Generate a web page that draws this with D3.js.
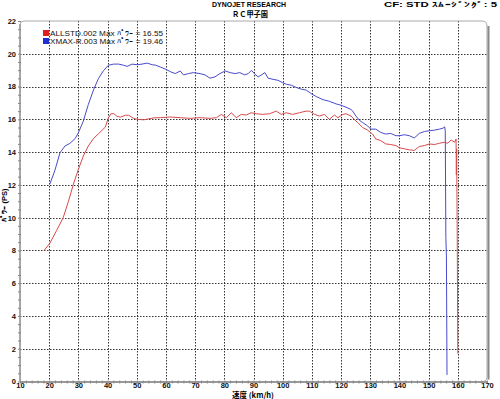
<!DOCTYPE html>
<html><head><meta charset="utf-8">
<script src="https://cdnjs.cloudflare.com/ajax/libs/d3/7.8.5/d3.min.js"></script>
<style>body{margin:0;background:#fff}svg{display:block}</style>
</head><body><div id="c"></div>
<script>
const xTicks=[10,20,30,40,50,60,70,80,90,100,110,120,130,140,150,160,170];
const yTicks=[0,2,4,6,8,10,12,14,16,18,20,22];
const legendNames=["ALLSTD.002 Max ﾊﾟﾜｰ = 16.55","XMAX-R.003 Max ﾊﾟﾜｰ = 19.46"];
const redSpeed=[18.2,20.2,22.5,24.8,26.6,28.3,30.0,31.7,33.4,35.2,36.9,39.2,40.3,41.1,42.1,43.2,44.4,46.1,47.2,49.0,50.7,52.4,54.1,55.9,58.1,61.5,64.9,68.3,71.7,75.1,77.3,79.0,80.7,82.4,84.1,85.8,87.5,89.2,90.9,93.2,95.5,97.8,99.5,101.2,103.4,105.7,108.0,109.2,110.9,112.6,114.3,116.0,117.7,118.9,120.6,121.7,123.4,124.5,125.7,127.4,129.1,130.8,131.9,133.6,135.3,137.0,138.8,140.0,141.7,143.4,145.1,146.8,148.6,150.3,152.0,153.7,155.4,156.6,157.7,158.9,159.4,159.5,159.6,159.8,160.0];
const redPower=[7.98,8.43,9.2,10.0,11.0,12.04,12.95,13.76,14.37,14.83,15.12,15.52,16.09,16.33,16.35,16.19,16.13,16.25,16.25,16.05,15.99,15.97,16.03,16.09,16.1,16.14,16.1,16.06,16.1,16.06,16.1,16.3,16.1,16.4,16.1,16.3,16.26,16.4,16.34,16.3,16.34,16.5,16.3,16.4,16.3,16.4,16.5,16.5,16.3,16.2,16.3,16.0,16.26,16.1,16.3,16.34,16.2,16.0,15.8,15.5,15.34,15.1,14.8,14.7,14.5,14.46,14.4,14.26,14.2,14.14,14.1,14.34,14.4,14.5,14.46,14.54,14.6,14.54,14.74,14.6,14.8,12.6,14.2,9.0,1.7];
const blueSpeed=[20.2,21.9,23.7,25.4,27.1,28.9,30.0,31.7,33.4,35.2,36.9,38.6,40.3,42.1,43.8,45.5,46.7,48.4,50.1,51.8,53.6,55.3,56.4,58.1,60.0,61.5,63.2,64.9,66.0,67.7,69.4,71.7,73.4,75.1,76.8,78.5,80.3,82.0,83.7,85.3,87.0,88.2,89.3,90.5,91.6,92.7,93.9,95.0,96.7,98.4,99.9,101.3,103.0,104.7,106.4,108.1,110.0,111.5,113.8,116.0,118.3,120.0,121.7,123.4,124.0,125.1,126.3,127.4,129.1,130.2,131.9,133.6,135.3,137.0,138.8,140.0,141.7,143.4,145.1,146.8,148.6,150.3,152.0,153.7,154.9,155.5,155.7,155.9,156.1,156.3];
const bluePower=[12.04,12.85,13.96,14.37,14.53,14.83,15.18,15.89,16.9,17.8,18.5,18.97,19.3,19.37,19.37,19.3,19.23,19.37,19.33,19.37,19.43,19.33,19.31,19.19,19.05,18.91,18.79,18.95,18.71,18.79,18.85,18.79,18.71,18.51,18.59,18.79,18.95,18.85,18.79,18.85,18.71,18.79,18.99,18.75,18.59,18.71,18.85,18.51,18.44,18.38,18.24,18.14,18.08,17.94,17.84,17.78,17.54,17.39,17.2,17.1,16.94,16.86,16.74,16.6,16.5,16.2,15.94,15.8,15.6,15.4,15.4,15.2,15.1,15.14,15.0,15.0,15.06,15.0,14.86,15.14,15.26,15.3,15.34,15.4,15.46,15.54,15.3,8.8,7.6,0.4];

const W=500,H=399;
const svg=d3.select("#c").append("svg").attr("width",W).attr("height",H);
const x=d3.scaleLinear().domain([10,170]).range([20,487]);
const y=d3.scaleLinear().domain([0,22]).range([381.5,21]);
const font="'Liberation Sans', Arial, sans-serif";

// grid
const g=svg.append("g");
g.selectAll(".vg").data(xTicks.filter(d=>d>10&&d<170)).enter().append("line")
 .attr("x1",d=>Math.round(x(d))+0.5).attr("x2",d=>Math.round(x(d))+0.5).attr("y1",y(22)).attr("y2",y(0))
 .attr("stroke","#333").attr("stroke-dasharray","1.5,1.5");
g.selectAll(".hg").data(yTicks.filter(d=>d>0&&d<22)).enter().append("line")
 .attr("y1",d=>Math.round(y(d))+0.5).attr("y2",d=>Math.round(y(d))+0.5).attr("x1",x(10)).attr("x2",x(170))
 .attr("stroke","#333").attr("stroke-dasharray","1.5,1.5");

// frame
const L=x(10),R=x(170),T=y(22),B=y(0);
svg.append("path").attr("d",`M${L},${B} L${L},${T+4} Q${L},${T} ${L+4},${T} L${R-5},${T} Q${R},${T} ${R},${T+5} L${R},${B-4} Q${R},${B} ${R-4},${B} Z`)
 .attr("fill","none").attr("stroke","#aaa").attr("stroke-width",1);
svg.append("path").attr("d",`M${R+1.5},${T+5} L${R+1.5},${B-2}`).attr("stroke","#888").attr("stroke-width",2).attr("fill","none");
svg.append("line").attr("x1",L).attr("x2",R).attr("y1",B+0.5).attr("y2",B+0.5).attr("stroke","#999").attr("stroke-width",2);
svg.append("line").attr("x1",L).attr("x2",L).attr("y1",T+3).attr("y2",B).attr("stroke","#999").attr("stroke-width",1.5);

// axes
const xAxisMinor=d3.axisBottom(x).tickValues(d3.range(10,171,2)).tickSize(3).tickFormat("");
svg.append("g").attr("transform",`translate(0,${B-1})`).call(xAxisMinor)
 .call(s=>{s.select(".domain").remove();s.selectAll("line").attr("stroke","#888");});
const xAxis=d3.axisBottom(x).tickValues(xTicks).tickSize(0).tickPadding(0);
svg.append("g").attr("transform",`translate(0,${B+1})`).call(xAxis)
 .call(s=>{s.select(".domain").remove();s.selectAll("text").attr("font-family",font).attr("font-weight","bold").attr("font-size",7.5).attr("fill","#111");});
const yAxisMinor=d3.axisLeft(y).tickValues(d3.range(0,22.01,0.5)).tickSize(3).tickFormat("");
svg.append("g").attr("transform",`translate(${L+1},0)`).call(yAxisMinor)
 .call(s=>{s.select(".domain").remove();s.selectAll("line").attr("stroke","#888");});
const yAxis=d3.axisLeft(y).tickValues(yTicks).tickSize(0).tickPadding(4);
svg.append("g").attr("transform",`translate(${L},0)`).call(yAxis)
 .call(s=>{s.select(".domain").remove();s.selectAll("text").attr("font-family",font).attr("font-weight","bold").attr("font-size",7.5).attr("fill","#111");});

// lines
const line=d3.line().x(d=>x(d[0])).y(d=>y(d[1]));
svg.append("path").datum(redSpeed.map((s,i)=>[s,redPower[i]])).attr("d",line)
 .attr("fill","none").attr("stroke","#d84a4a").attr("stroke-width",1);
svg.append("path").datum(blueSpeed.map((s,i)=>[s,bluePower[i]])).attr("d",line)
 .attr("fill","none").attr("stroke","#4a4acc").attr("stroke-width",1);

// legend
const cols=["#e02020","#2030d0"];
legendNames.forEach((t,i)=>{
  svg.append("rect").attr("x",43).attr("y",30+i*8).attr("width",6).attr("height",6).attr("fill",cols[i]);
  svg.append("text").attr("x",50).attr("y",36+i*8).attr("font-family",font).attr("font-size",8)
   .attr("textLength",113).attr("lengthAdjust","spacingAndGlyphs").attr("fill","#111").text(t);
});

// titles
svg.append("text").attr("x",212).attr("y",7).attr("font-family",font).attr("font-weight","bold").attr("font-size",7)
 .attr("textLength",74).attr("lengthAdjust","spacingAndGlyphs").text("DYNOJET  RESEARCH");
svg.append("text").attr("x",232).attr("y",17).attr("font-family","'Noto Sans CJK JP', sans-serif").attr("font-weight","bold").attr("font-size",7.5)
 .attr("textLength",36).attr("lengthAdjust","spacingAndGlyphs").text("ＲＣ甲子園");
svg.append("text").attr("x",384).attr("y",7).attr("font-family",font).attr("font-weight","bold").attr("font-size",7)
 .attr("textLength",113).attr("lengthAdjust","spacingAndGlyphs").text("CF: STD   ｽﾑｰｼﾞﾝｸﾞ: 5");
svg.append("text").attr("transform","translate(7,205) rotate(-90)").attr("text-anchor","middle")
 .attr("font-family",font).attr("font-weight","bold").attr("font-size",7.5).text("ﾊﾟﾜｰ (PS)");
svg.append("text").attr("x",253).attr("y",398).attr("text-anchor","middle")
 .attr("font-family","'Noto Sans CJK JP', sans-serif").attr("font-weight","bold").attr("font-size",7.5).text("速度 (km/h)");
</script></body></html>
